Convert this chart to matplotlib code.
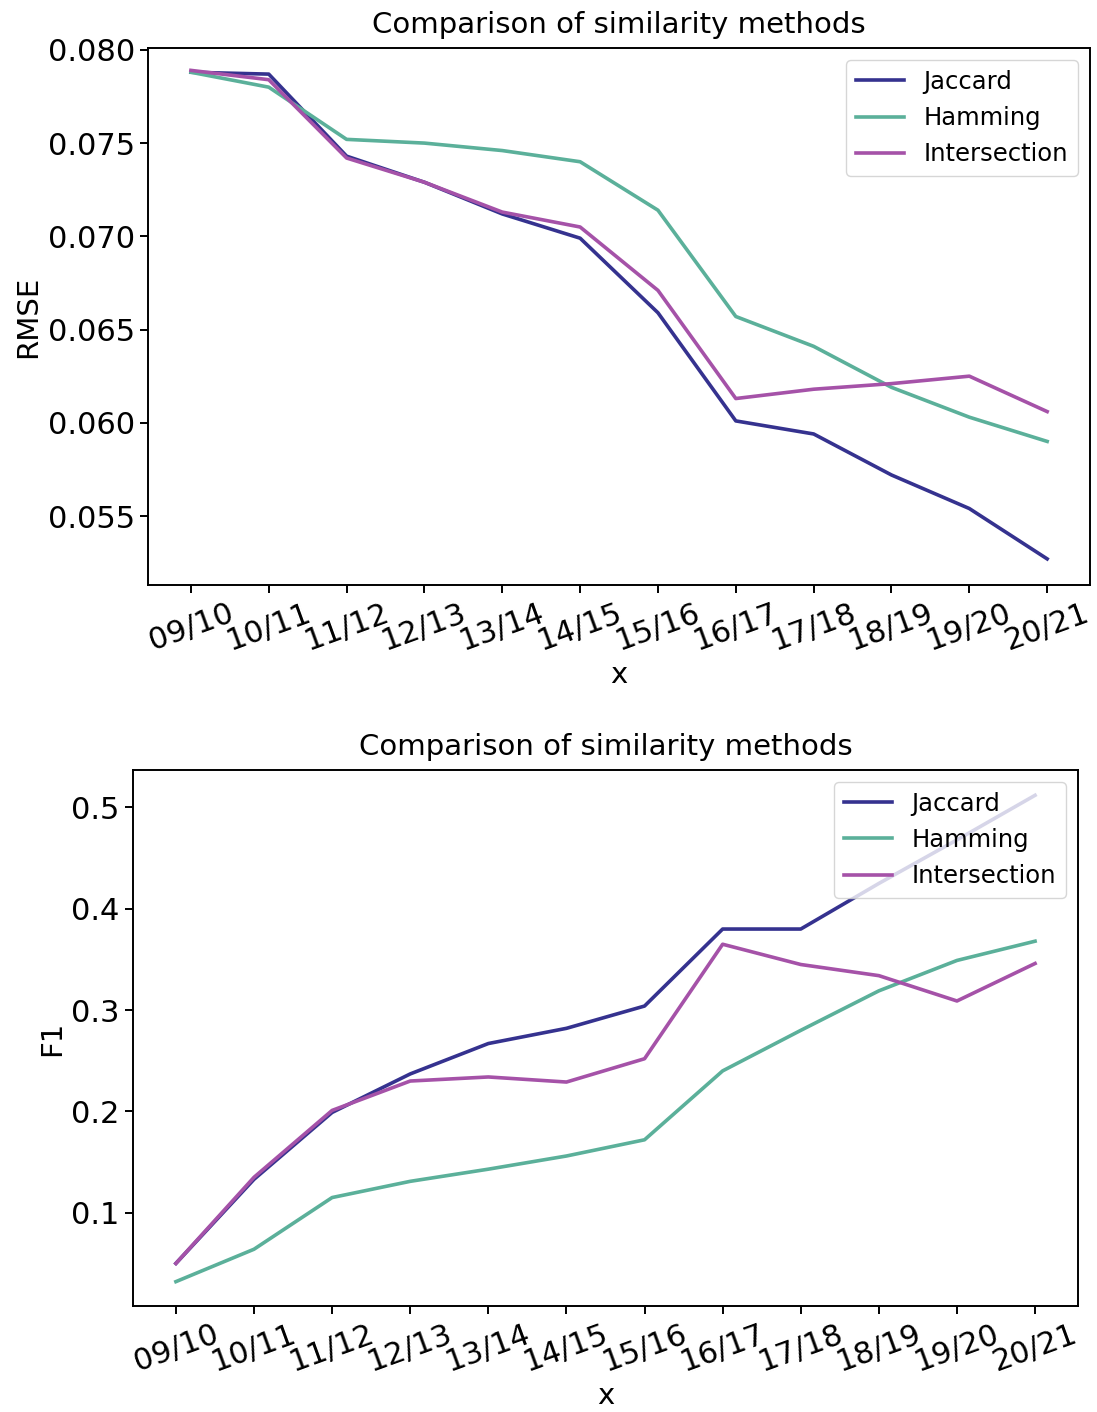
import numpy as np
import matplotlib
matplotlib.use('Agg')
from matplotlib import pyplot as plt

seasons = ['09/10', '10/11', '11/12', '12/13', '13/14', '14/15',
           '15/16', '16/17', '17/18', '18/19', '19/20', '20/21']

# RMSE
rmse_jaccard = [0.0788, 0.0787, 0.0743, 0.0729, 0.0712, 0.0699,
                0.0659, 0.0601, 0.0594, 0.0572, 0.0554, 0.0527]
rmse_hamming = [0.0788, 0.0780, 0.0752, 0.0750, 0.0746, 0.0740,
                0.0714, 0.0657, 0.0641, 0.0619, 0.0603, 0.0590]
rmse_inter = [0.0789, 0.0784, 0.0742, 0.0729, 0.0713, 0.0705,
              0.0671, 0.0613, 0.0618, 0.0621, 0.0625, 0.0606]

# F1
f1_jaccard = [0.050, 0.133, 0.199, 0.237, 0.267, 0.282,
              0.304, 0.380, 0.380, 0.425, 0.468, 0.512]
f1_hamming = [0.032, 0.064, 0.115, 0.131, 0.143, 0.156,
              0.172, 0.240, 0.280, 0.319, 0.349, 0.368]
f1_inter = [0.050, 0.135, 0.201, 0.230, 0.234, 0.229,
            0.252, 0.365, 0.345, 0.334, 0.309, 0.346]

colors = {'Jaccard': '#35328f', 'Hamming': '#5bb09a', 'Intersection': '#a552a8'}

plt.rcParams['font.size'] = 21
plt.rcParams['xtick.labelsize'] = 22
plt.rcParams['ytick.labelsize'] = 22
plt.rcParams['legend.fontsize'] = 17.5
plt.rcParams['axes.linewidth'] = 1.4
plt.rcParams['xtick.major.width'] = 1.4
plt.rcParams['ytick.major.width'] = 1.4
plt.rcParams['xtick.major.size'] = 6
plt.rcParams['ytick.major.size'] = 6

fig = plt.figure(figsize=(10.97, 14.12), dpi=100)
ax1 = fig.add_axes([0.135, 0.5857, 0.8586, 0.3803])
ax2 = fig.add_axes([0.1212, 0.0751, 0.8615, 0.3796])

x = np.arange(len(seasons))

###------------ RMSE ----------------
ax1.plot(x, rmse_jaccard, color=colors['Jaccard'], lw=2.6, label='Jaccard')
ax1.plot(x, rmse_hamming, color=colors['Hamming'], lw=2.6, label='Hamming')
ax1.plot(x, rmse_inter, color=colors['Intersection'], lw=2.6, label='Intersection')
ax1.set_title('Comparison of similarity methods', fontsize=21, pad=11)
ax1.set_ylabel('RMSE')
ax1.set_xlabel('x')
ax1.set_yticks([0.055, 0.060, 0.065, 0.070, 0.075, 0.080])
ax1.set_yticklabels(['0.055', '0.060', '0.065', '0.070', '0.075', '0.080'])
ax1.set_ylim(0.0513, 0.0801)
ax1.set_xticks(x)
ax1.set_xticklabels(seasons, rotation=20)
ax1.legend(loc='upper right')

###------------ F1 ----------------
ax2.plot(x, f1_jaccard, color=colors['Jaccard'], lw=2.6, label='Jaccard')
ax2.plot(x, f1_hamming, color=colors['Hamming'], lw=2.6, label='Hamming')
ax2.plot(x, f1_inter, color=colors['Intersection'], lw=2.6, label='Intersection')
ax2.set_title('Comparison of similarity methods', fontsize=21, pad=11)
ax2.set_ylabel('F1')
ax2.set_xlabel('x')
ax2.set_yticks([0.1, 0.2, 0.3, 0.4, 0.5])
ax2.set_ylim(0.008, 0.537)
ax2.set_xticks(x)
ax2.set_xticklabels(seasons, rotation=20)
ax2.legend(loc='upper right')

fig.savefig('out.png', dpi=100)
